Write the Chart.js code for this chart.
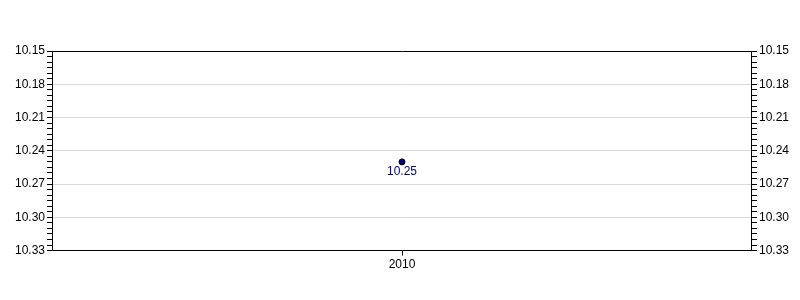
<!DOCTYPE html>
<html>
<head>
<meta charset="utf-8">
<script src="https://cdn.jsdelivr.net/npm/chart.js@4"></script>
<style>
  html, body { margin: 0; padding: 0; background: #fff; }
  #wrap { width: 800px; height: 300px; }
</style>
</head>
<body>
<div id="wrap"><canvas id="myChart" width="800" height="300"></canvas></div>
<script>
const categories = ['2010'];
const values = [10.25];
const yMin = 10.15;
const yMax = 10.33;
const majorStep = 0.03;
const minorStep = 0.005;

function isMajor(v) {
  let k = (v - yMin) / majorStep;
  return Math.abs(k - Math.round(k)) < 1e-6;
}

// labels under the points
const pointLabels = {
  id: 'pointLabels',
  afterDatasetsDraw(chart) {
    let ctx = chart.ctx;
    let meta = chart.getDatasetMeta(0);
    ctx.save();
    ctx.font = '12px "Liberation Sans", Arial, sans-serif';
    ctx.fillStyle = '#000080';
    ctx.textAlign = 'center';
    ctx.textBaseline = 'top';
    meta.data.forEach(function(pt, i) {
      ctx.fillText(values[i].toFixed(2), pt.x, pt.y + 4);
    });
    ctx.restore();
  }
};

function yAxis(pos, grid) {
  return {
    type: 'linear',
    position: pos,
    reverse: true,
    min: yMin,
    max: yMax,
    afterBuildTicks: function(scale) {
      let t = [];
      for (let i = 0; i <= Math.round((yMax - yMin) / minorStep); i++) {
        t.push({ value: +(yMin + i * minorStep).toFixed(3) });
      }
      scale.ticks = t;
    },
    border: { display: true, color: '#000', width: 1 },
    grid: {
      display: true,
      drawOnChartArea: grid,
      tickLength: 5,
      tickColor: '#000',
      color: function(c) {
        if (!c.tick) return 'transparent';
        if (Math.abs(c.tick.value - yMin) < 1e-6) return '#000';
        return isMajor(c.tick.value) ? '#d9d9d9' : 'transparent';
      }
    },
    ticks: {
      autoSkip: false,
      color: '#000',
      padding: 2,
      font: { family: '"Liberation Sans", Arial, sans-serif', size: 12 },
      callback: function(v) { return isMajor(v) ? v.toFixed(2) : ''; }
    }
  };
}

let ctx = document.getElementById('myChart').getContext('2d');
let myChart = new Chart(ctx, {
  type: 'line',
  data: {
    labels: categories,
    datasets: [{
      data: values,
      showLine: false,
      pointRadius: 3,
      pointHoverRadius: 3,
      pointBackgroundColor: '#000080',
      pointBorderColor: '#000',
      pointBorderWidth: 1
    }]
  },
  options: {
    responsive: false,
    animation: false,
    layout: { padding: { top: 51, left: 13, right: 9, bottom: 26 } },
    plugins: {
      legend: { display: false },
      tooltip: { enabled: false }
    },
    scales: {
      x: {
        type: 'category',
        offset: true,
        border: { display: true, color: '#000', width: 1 },
        grid: { display: true, drawOnChartArea: false, offset: false, tickLength: 5, tickColor: '#000' },
        ticks: {
          color: '#000',
          padding: 2,
          font: { family: '"Liberation Sans", Arial, sans-serif', size: 12 }
        }
      },
      y: yAxis('left', true),
      y2: yAxis('right', false)
    }
  },
  plugins: [pointLabels]
});
</script>
</body>
</html>
